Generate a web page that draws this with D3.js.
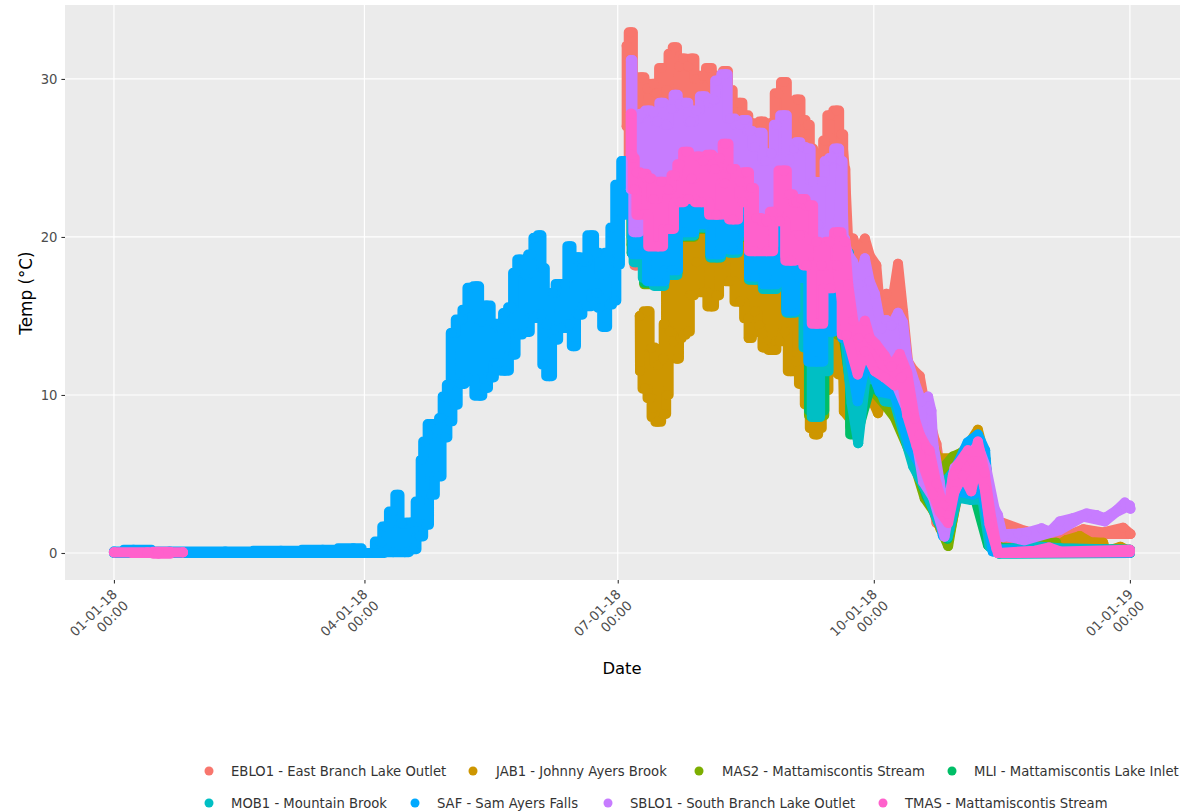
<!DOCTYPE html>
<html><head><meta charset="utf-8">
<script src="https://cdnjs.cloudflare.com/ajax/libs/d3/7.8.5/d3.min.js"></script>
<style>html,body{margin:0;padding:0;background:#fff}svg{display:block}text{font-family:"DejaVu Sans",sans-serif}</style>
</head><body><svg id="c" width="1186" height="811"></svg>
<script>
const categories = ["EBLO1 - East Branch Lake Outlet","JAB1 - Johnny Ayers Brook","MAS2 - Mattamiscontis Stream","MLI - Mattamiscontis Lake Inlet","MOB1 - Mountain Brook","SAF - Sam Ayers Falls","SBLO1 - South Branch Lake Outlet","TMAS - Mattamiscontis Stream"];
const colors = ["#F8766D","#CD9600","#7CAE00","#00BE67","#00BFC4","#00A9FF","#C77CFF","#FF61CC"];
const xTickDates = ["2018-01-01","2018-04-01","2018-07-01","2018-10-01","2019-01-01"];
const yTicks = [0,10,20,30];

// readings: [day of 2018 (0 = Jan 1), temp C], upper and lower edge of each station's daily readings
const eblo1High = [[184.2,32.1],[185.7,32.96],[187.2,28.7],[189.6,30.1],[191.6,29.4],[193.8,29.7],[195,29.1],[196.7,30.7],[198.5,29.3],[200,31.6],[201.5,32],[203.1,30.8],[204.5,31.3],[206.3,30.8],[207.8,31.3],[209.3,30],[211.7,30.2],[213.7,30.7],[215.9,29.8],[217.9,30.2],[219.7,30.5],[221.5,29.3],[223.1,28.5],[224.9,28.5],[226.7,27.7],[229.1,27.2],[230.9,26.7],[232.7,27.3],[234.5,25.3],[236.2,27.2],[238.6,29.1],[240.7,29.8],[242.8,26.1],[244,26.2],[245.7,28.7],[247.6,27.4],[249.4,27.1],[250.6,25.6],[251.8,23.4],[253,22.7],[254.2,21.2],[255.4,26.1],[257.2,27.7],[259.7,28],[261.4,26.5],[262.6,24.3],[263.8,19.7],[265.6,19.9],[267.4,18.9],[269.8,19.9],[271.6,18.8],[273.9,18.2],[275.1,15.7],[277.5,16.4],[279.3,15.5],[281.7,18.3],[283.5,15.3],[285.3,12.1],[287.1,11.6],[289.5,11.2],[290.7,10],[294.9,7.15],[295.5,6.9],[297.9,3.9],[303.8,5],[310,6],[314,3],[318,2],[327.3,1.4],[339.8,0.93],[348.2,1.5],[355.4,1.3],[362.6,1.6],[365.2,1.2]];
const eblo1Low = [[184.2,27],[185.7,24],[186.5,19],[187.5,18.2],[189,20],[195.4,19],[200.4,20],[205,21.5],[212,22],[216.6,20.5],[219.5,23],[222.4,21],[226,22],[230.3,19],[236,19],[240,21.5],[243.2,18],[247,18.5],[252,15],[257,16],[259,18.5],[263,16],[267,13],[271,14],[275,13],[281,13],[286,9],[291,7],[295.5,1.9],[298,3],[303.8,3.7],[308,5],[312,4],[316,1.5],[318,1],[327,0.8],[338,0.4],[348,0.6],[356,1.2],[365.2,1.2]];

const jab1High = [[188.9,15],[191.7,15.3],[193.2,13],[195.5,11.9],[197.3,12.3],[197.7,14.5],[199,17.6],[204,21],[212,21.5],[216,21],[219.5,21.4],[222,20],[226,20.5],[236,19],[240,19],[243,15.5],[245.8,15.4],[247.6,14.6],[250,13],[252.5,11],[256,12],[259,14.5],[263.2,13],[266,10.5],[270,12],[276,12],[282,12],[290,9],[296,6],[303,6],[306.8,6.8],[310.4,7.8],[313,6],[316,0.8],[320,0.1],[322,0.1],[327.9,0.4],[332,0.2],[339.2,0.5],[342.2,0.82],[347,1.07],[350.6,0.7],[355.4,0.65],[356.4,0.1],[358.4,0.2],[361.6,0.4],[365,0.1]];
const jab1Low = [[189,11.5],[190.8,10.4],[192.6,9.8],[193.7,8.6],[195.3,8.3],[197.9,8.8],[198.9,10],[199.7,14],[201.2,13.4],[202.4,12.3],[203.6,13.6],[204.5,13.8],[206.3,14],[207.5,16.3],[209.3,18.4],[211.7,16.5],[214.7,15.6],[216.5,16.3],[218.3,18.3],[221,17.2],[224.9,15.9],[227.9,14.85],[228.1,13.6],[230.3,15.3],[231.8,14.4],[232.7,13.9],[233.3,13],[236.8,12.85],[239.2,13.4],[241,14],[243.2,11.5],[245.2,12.1],[247,10.7],[249.4,9.4],[250.6,7.9],[252.4,7.5],[253.6,7.9],[255,10.3],[258.4,11.5],[262,11.3],[262.4,8.95],[264.4,8.5],[265.6,7.9],[269,9],[271.6,10],[274.5,8.85],[276.3,10],[285,8],[292,4],[297,1.5],[300,1],[303,3.5],[308,3.8],[312,3],[315,0.5],[318,0],[365,0]];

const mas2High = [[186,23],[200,22],[220,22],[240,22],[252,18],[260,19],[268,14],[276,13],[285,10],[291,6],[296,5],[301.4,6.1],[304,6.3],[307,6.6],[310.4,7],[313,6],[316,0.4],[322,0.3],[328,0.4],[334,0.6],[338.5,0.65],[339.5,0.1],[365,0.1]];
const mas2Low = [[186,19.5],[195,17],[200,17.7],[204.9,20],[212,20.5],[216.6,18.7],[219.5,21.7],[222.5,19.1],[226,20],[230.3,17.3],[236,16.8],[240,20.3],[243,15.5],[247,16.6],[252.4,8.7],[258,14],[262,13.8],[267,8],[271,10.6],[276.9,9.4],[280.4,8.6],[287.1,5.9],[291.3,3.45],[294.3,2.7],[299.7,0.44],[303,3.8],[309.8,4],[312,3],[314.6,0.5],[318,0],[365,0.05]];

const mliHigh = [[186,22],[200,22],[220,21],[240,21],[252,17],[260,18],[268,13],[276,12],[285,9],[291,5],[296,4],[301,5],[307,6.3],[310.4,6.8],[313,5.5],[316,0.3],[330,0.3],[365,0.2]];
const mliLow = [[186,19],[195,17.1],[200,17.8],[204.9,20.1],[212,20.6],[216.6,18.8],[219.5,21.8],[222.5,19.2],[226,20.1],[230.3,17.4],[236,16.9],[240,20.4],[243,15.5],[247,17],[252.4,9],[258,14.6],[262,14],[267,7.5],[272,10.7],[277,9.8],[280.5,9.7],[288,5.5],[292,3.6],[299.5,0.9],[303,3.8],[309,3.7],[314,0.5],[318,0],[365,0.05]];

const mob1High = [[186,23],[200,22],[220,23],[240,22],[252,17],[260,18.5],[268,13],[276,12],[285,9.5],[291,5.5],[296,4],[301,5],[307,6.5],[310.4,7.1],[313,6],[316,0.2],[323,0.3],[333,0.4],[340,0.3],[365,0.2]];
const mob1Low = [[186,20],[187.4,18.4],[192.6,17.4],[195.4,16.9],[200,17.6],[204.9,20.1],[212,20.6],[216.6,18.7],[219.5,21.7],[222.4,19],[226,20.1],[230.3,17.3],[236,16.7],[240,20.4],[243.2,15.2],[246.5,16.9],[249,13],[252.4,8.6],[255,11.5],[258.5,16.4],[260,16.7],[262.6,13.9],[265,9.5],[267.4,6.95],[270,11],[273.4,11],[276.9,9.6],[280.5,9.5],[287.1,5.5],[291.3,4.1],[296,2],[299.5,1],[303,3.5],[308,3.35],[312,3.4],[314.6,0.4],[318,-0.05],[365,0]];

const safHigh = [[0,0.1],[7,0.2],[20,0.1],[40,0.1],[60,0.15],[75,0.2],[86,0.3],[92,0],[95.5,0.73],[97.3,1.68],[100.3,2.63],[101.9,3.68],[103.3,1.89],[106.9,1.93],[109.9,3.26],[110.5,5.9],[111.7,7.06],[113.7,8.16],[115.9,7.8],[117.7,8.54],[118.5,9.91],[120.7,10.65],[121.3,13.93],[124.3,14.77],[126.1,15.4],[127.9,16.78],[130.3,16.88],[132.1,14.67],[133.9,15.66],[136.8,14.5],[139.2,14.24],[140.4,15.19],[142.8,15.55],[144,17.73],[145.8,18.57],[147.6,17.62],[150,18.89],[151.4,19.95],[153,20.11],[154.2,18.04],[155.4,14.45],[157.8,16.46],[159.6,17.03],[162,16.99],[163.8,19.42],[165,18.04],[166.8,18.72],[168.6,18.47],[171.6,20.11],[173.4,19],[175.2,17.62],[177.5,19],[179.2,20.6],[181,23.3],[183.5,24.8],[185.7,24.8],[200,23],[220,24],[240,23],[252,18],[260,19],[268,14],[285,10],[292,6],[300,3],[301.4,5],[306.7,7],[310.4,7.5],[313,6.5],[315.7,0.1],[365,0.1]];
const safLow = [[0,0],[90,0],[94.3,0],[100.3,0.05],[104.5,0.05],[107.5,0.24],[109.9,1.04],[112.3,1.78],[114.1,3.68],[116.5,4.84],[118.9,7.31],[120.7,8.33],[122.5,9.38],[124.5,10.69],[127.5,11.07],[131.5,9.95],[133.2,10.44],[135.6,11.11],[137.4,12.02],[140.4,11.54],[143.4,12.55],[145.2,13.82],[148.2,13.99],[150.6,14.87],[153.6,15.08],[154.2,11.92],[156.4,11.18],[158.4,13.5],[160.8,14.24],[163.8,14.45],[165.2,13.08],[166.8,15.08],[169.8,15.61],[173.4,16.46],[174.5,15.5],[176.3,14.3],[178.1,15.72],[179.9,15.97],[181.1,18.25],[182.5,21.4],[185,21.5],[187.6,18.9],[195.4,17.2],[200.4,17.9],[204.9,20.3],[212,20.8],[216.6,18.9],[219.5,22],[222.4,19.2],[226,20.3],[230.3,17.5],[236.3,17],[240,20.6],[243.2,15.3],[246.4,17.4],[252.5,12.1],[257.2,14],[260,16.8],[263.3,13.6],[267.2,9.6],[270.5,12.4],[275.1,10.2],[280.5,10],[285.9,6.65],[294,4.3],[297.8,1.1],[302.8,3.9],[308.6,3.7],[312,4],[315.7,0.2],[365,0]];

const sblo1High = [[185.7,31.2],[186.9,27.7],[188.4,27.5],[189.6,27.8],[192,28],[193.8,27.9],[195.2,27.3],[196.7,28.5],[198.5,27.1],[200.3,28.1],[201.8,29],[203.3,28.4],[205.5,28.5],[207.2,27.3],[209.3,28],[211.7,28.9],[213.5,28.5],[215.3,28.7],[216.7,29.9],[219.7,30.3],[221.3,27.5],[224.9,27.1],[226.7,27.4],[228.5,26.7],[230.3,25.7],[232.1,26.6],[234.1,24.8],[236.2,25.3],[238,27.1],[240.7,27.7],[242.8,24.9],[244.3,25.6],[245.7,26],[247.6,25.7],[249.4,25.6],[251.2,23.5],[253,20.8],[254.6,23.5],[256,24.8],[257.8,25],[259.7,25.6],[261.4,24.8],[262.2,19.9],[263.8,18.9],[265.6,18.4],[267.5,17],[269.8,18.65],[271.5,17.2],[273.4,16.4],[275.7,14.2],[277.5,14.75],[279.3,14.4],[281.7,15.2],[283.5,14.6],[285,12.3],[287.7,10.8],[290.1,9.6],[292.5,9.9],[293.7,9],[294.3,7.05],[296.7,4.5],[298.5,2],[302,5.4],[305.6,6],[310.4,6.8],[313.4,5.4],[316.4,2.8],[317.6,2.4],[319.4,1],[321.3,1.2],[324.9,1.24],[327.9,1.3],[333.3,1.56],[336.2,1.35],[339.8,2],[344.6,2.2],[349.4,2.5],[353,2.4],[356,2.2],[360.2,2.7],[363.2,3.2],[365.2,2.8]];
const sblo1Low = [[185.7,23],[187.5,20.3],[190,21.7],[195.5,19.8],[199,20.8],[203,22.5],[211,22.5],[216.5,21.7],[222.5,21.4],[226,22.5],[230.3,19.4],[234.5,19.4],[239.2,21.3],[243.2,18.8],[246,20],[249,18.5],[252.5,14.8],[257.2,17],[259.8,18.5],[263.2,14],[267.2,11.6],[270.5,13.3],[275,11.8],[280.5,10.9],[285,9],[288.3,7.1],[290.7,4.5],[294.3,3.5],[298.4,1.03],[301,3.5],[305,5],[308,4.2],[310.4,6],[312.8,4.4],[314.6,2],[317,1.1],[319.5,1.1],[327,0.8],[339.8,1.45],[348.2,2.3],[356,2],[360.2,2.6],[365,3]];

const tmasEarlyHigh = [[0,0.05],[12,0.05],[16,0.08],[24.8,0.05]];
const tmasEarlyLow = [[0,0.03],[12,0],[16,-0.05],[24.8,0.03]];
const tmasHigh = [[185.7,27.8],[186.4,25],[187.8,24.1],[190.2,24],[192.6,23.7],[193.8,22.4],[196.7,23.5],[199.1,23],[201.5,23.9],[203.3,24.6],[205.7,25.4],[207.5,23.7],[209.9,25.1],[211.7,24.8],[214.1,25.2],[215.9,24.3],[217.7,25],[219.7,25.9],[221.9,24.3],[224.9,23.5],[227.3,24.1],[229,23.1],[230.9,21.2],[234.5,21],[236.8,21.6],[240.7,24.2],[242.8,22.7],[245.2,22.2],[247,22.4],[250,22],[252.4,19.7],[254.2,18.2],[257.2,19.7],[260.2,20.3],[262.6,19.7],[263.8,17],[265.6,14.7],[267.4,13.6],[269.8,14.7],[271.6,13.6],[273.9,13.2],[276.9,12.5],[279.3,11.8],[282.3,12.6],[285,11.4],[287.7,8.5],[289.5,7.5],[291.9,6.7],[293,6.5],[295.5,4.4],[297.9,3],[299.7,2.4],[301.4,4.9],[303.2,5.6],[306.8,6.5],[308.6,5.8],[310.4,7.05],[312.8,5.1],[315.2,2.2],[317.6,0],[331,0.15],[336,0.35],[340,0.1],[365,0.2]];
const tmasLow = [[185.7,25.2],[187,23],[188.4,21.4],[195.5,19.4],[199.1,20.5],[203.3,22.2],[206.3,22.4],[211.1,22.2],[216.5,21.4],[219.5,23.4],[222.5,21.1],[226,22.2],[230.3,19.1],[234.5,19.1],[239.2,21],[243.2,18.5],[246.4,20.1],[248.9,18.2],[252.5,14.5],[257.2,16.75],[259.8,18.2],[263.2,13.8],[267.2,11.3],[269.8,12.75],[273.4,11.5],[276.9,11.1],[280.5,10.6],[282.9,11.1],[285,8.7],[288.3,6.8],[294.3,3.7],[296.7,2.6],[299.7,1.9],[302,3.9],[305,4.9],[308,3.9],[310.4,5.8],[312.8,4.1],[314.6,1.8],[317,0.3],[317.6,0],[365,0.05]];

const shapes = [
  [0,eblo1High,eblo1Low],[1,jab1High,jab1Low],[2,mas2High,mas2Low],[3,mliHigh,mliLow],
  [4,mob1High,mob1Low],[5,safHigh,safLow],[6,sblo1High,sblo1Low],
  [7,tmasEarlyHigh,tmasEarlyLow],[7,tmasHigh,tmasLow]
];

const svg = d3.select("#c");
const W = {l:65,r:1180,t:5,b:580};
const t0 = Date.UTC(2018,0,1);
const toDate = d => new Date(t0 + d*864e5);
const x = d3.scaleUtc().domain([new Date(Date.UTC(2017,11,14,10,5)),new Date(Date.UTC(2019,0,19))]).range([W.l,W.r]);
const y = d3.scaleLinear().domain([-1.709,34.68]).range([W.b,W.t]);
const tickDates = xTickDates.map(s=>new Date(s+"T00:00:00Z"));

svg.append("rect").attr("x",W.l).attr("y",W.t).attr("width",W.r-W.l).attr("height",W.b-W.t).attr("fill","#EBEBEB");
svg.append("g").selectAll("line").data(tickDates).join("line")
  .attr("x1",d=>x(d)).attr("x2",d=>x(d)).attr("y1",W.t).attr("y2",W.b).attr("stroke","#fff").attr("stroke-width",1.2);
svg.append("g").selectAll("line").data(yTicks).join("line")
  .attr("y1",d=>y(d)).attr("y2",d=>y(d)).attr("x1",W.l).attr("x2",W.r).attr("stroke","#fff").attr("stroke-width",1.2);

const R = 5;
const fingerEnd = 262; // columnar up to here; smooth autumn slopes after
const stepped = d3.line().x(p=>x(toDate(p[0]))).y(p=>y(p[1])).curve(d3.curveStep);
const smooth = d3.line().x(p=>x(toDate(p[0]))).y(p=>y(p[1]));
const before = a => { const k = a.findIndex(p=>p[0]>fingerEnd); return k<0 ? a : a.slice(0,k+1); };
const after = a => { const k = a.findIndex(p=>p[0]>fingerEnd); return k<0 ? [] : a.slice(Math.max(0,k-1)); };
shapes.forEach(([i,hi,lo])=>{
  const g = svg.append("g").attr("class","series");
  const draw = (h,l,gen) => {
    const ring = h.concat(l.slice().reverse());
    if (ring.length<3) return;
    g.append("path").attr("d",gen(ring)+"Z").attr("fill",colors[i]).attr("stroke",colors[i])
      .attr("stroke-width",2*R).attr("stroke-linejoin","round");
  };
  draw(before(hi),before(lo),stepped);
  draw(after(hi),after(lo),smooth);
  g.selectAll("circle").data(hi.concat(lo)).join("circle")
    .attr("cx",p=>x(toDate(p[0]))).attr("cy",p=>y(p[1])).attr("r",R).attr("fill",colors[i]);
});

const tickFont = "13.2px";
const ax = svg.append("g").attr("transform",`translate(0,${W.b})`)
  .call(d3.axisBottom(x).tickValues(tickDates).tickSize(3.6).tickFormat(""));
ax.select(".domain").remove();
ax.selectAll("line").attr("stroke","#333").attr("stroke-width",1.1);
const fmtD = d3.utcFormat("%m-%d-%y"), fmtT = d3.utcFormat("%H:%M");
const xl = svg.append("g").selectAll("g").data(tickDates).join("g")
  .attr("transform",d=>`translate(${x(d)+4},${W.b+15}) rotate(-45)`);
xl.append("text").attr("text-anchor","end").attr("y",0).attr("font-size",tickFont).attr("fill","#4d4d4d").text(fmtD);
xl.append("text").attr("text-anchor","end").attr("y",16).attr("font-size",tickFont).attr("fill","#4d4d4d").text(fmtT);

const ay = svg.append("g").attr("transform",`translate(${W.l},0)`)
  .call(d3.axisLeft(y).tickValues(yTicks).tickSize(3.6).tickPadding(4));
ay.select(".domain").remove();
ay.selectAll("line").attr("stroke","#333").attr("stroke-width",1.1);
ay.selectAll("text").attr("font-size",tickFont).attr("font-family","DejaVu Sans").attr("fill","#4d4d4d");

svg.append("text").attr("x",622).attr("y",674).attr("text-anchor","middle").attr("font-size","16.4px").attr("fill","#000").text("Date");
svg.append("text").attr("transform","translate(32,293) rotate(-90)").attr("text-anchor","middle").attr("font-size","16.8px").attr("fill","#000").text("Temp (°C)");

const legendX = [[209,231],[473,496],[699,722],[952,974],[209,231],[415,437],[608,630],[883,905]];
const legendY = [771,771,771,771,803,803,803,803];
const lg = svg.append("g").selectAll("g").data(categories).join("g");
lg.append("circle").attr("cx",(d,i)=>legendX[i][0]).attr("cy",(d,i)=>legendY[i]).attr("r",4.5).attr("fill",(d,i)=>colors[i]);
lg.append("text").attr("x",(d,i)=>legendX[i][1]).attr("y",(d,i)=>legendY[i]+4.5).attr("font-size","13.2px").attr("fill","#333").text(d=>d);
</script></body></html>
